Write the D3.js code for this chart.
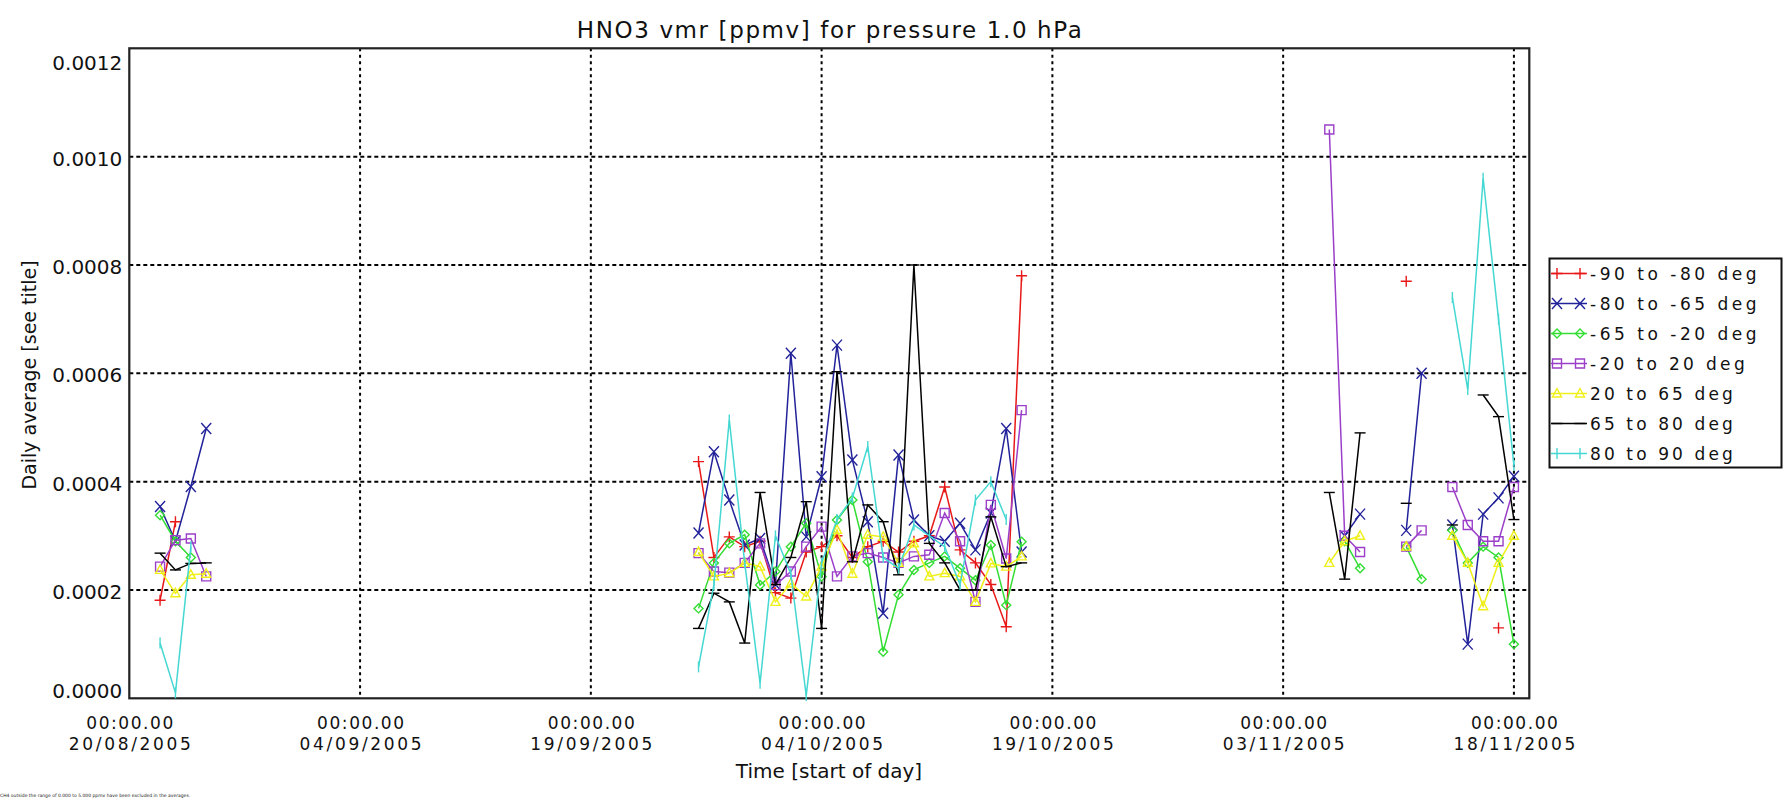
<!DOCTYPE html>
<html><head><meta charset="utf-8">
<script src="https://cdn.jsdelivr.net/npm/d3@7"></script>
<style>body{margin:0;background:#fff} svg{display:block}</style>
</head><body><svg id="c" width="1788" height="798"></svg>
<script>
// ---------- data ----------
const dates = [
  "2005-08-22","2005-08-23","2005-08-24","2005-08-25",
  "2005-09-26","2005-09-27","2005-09-28","2005-09-29","2005-09-30","2005-10-01","2005-10-02","2005-10-03",
  "2005-10-04","2005-10-05","2005-10-06","2005-10-07","2005-10-08","2005-10-09","2005-10-10","2005-10-11",
  "2005-10-12","2005-10-13","2005-10-14","2005-10-15","2005-10-16","2005-10-17",
  "2005-11-06","2005-11-07","2005-11-08","2005-11-11","2005-11-12",
  "2005-11-14","2005-11-15","2005-11-16","2005-11-17","2005-11-18"
];
const seriesNames = ["-90 to -80 deg","-80 to -65 deg","-65 to -20 deg","-20 to 20 deg","20 to 65 deg","65 to 80 deg","80 to 90 deg"];
const s90to80S = [0.000181,0.000326,null,null,
  0.000437,0.00026,0.000298,0.00028,0.00029,0.000195,0.000185,0.00027,0.00028,0.0003,0.00026,0.00028,0.00029,0.00027,0.00029,0.0003,0.00039,0.000274,0.00025,0.00021,0.000132,0.00078,
  null,null,null,0.00077,null, null,null,null,0.00013,null];
const s80to65S = [0.000354,0.00029,0.000391,0.000498,
  0.000305,0.000455,0.000366,0.000283,0.000295,0.00021,0.000637,0.000298,0.000409,0.000652,0.00044,0.000326,0.000157,0.000449,0.000329,0.0003,0.00029,0.000323,0.000274,0.000342,0.000498,0.00027,
  null,0.0003,0.00034,0.00031,0.0006, 0.00032,0.0001,0.00034,0.00037,0.00041];
const s65to20S = [0.000338,0.00029,0.00026,null,
  0.000166,0.00025,0.000286,0.000302,0.000209,0.000234,0.00028,0.000323,0.000225,0.000329,0.000366,0.000252,0.000086,0.000191,0.000237,0.00025,0.000262,0.00024,0.000218,0.000283,0.000172,0.000289,
  null,0.00029,0.00024,0.00028,0.00022, 0.00031,0.00025,0.00028,0.00026,0.0001];
const s20Sto20N = [0.000243,0.000292,0.000295,0.000225,
  0.000268,0.000234,0.000232,0.00025,0.000286,0.000209,0.000234,0.00028,0.000317,0.000225,0.000262,0.000268,0.00026,0.00025,0.000262,0.000265,0.000342,0.00029,0.000178,0.000357,0.000258,0.000532,
  0.00105,0.0003,0.00027,0.00028,0.00031, 0.00039,0.00032,0.00029,0.00029,0.00039];
const s20to65N = [0.000237,0.000194,0.000228,0.00023,
  0.00027,0.000225,0.000231,0.00025,0.000243,0.000178,0.000212,0.000188,0.000243,0.000311,0.00023,0.000302,0.000298,0.00025,0.000286,0.000225,0.000231,0.000225,0.000178,0.000249,0.000243,0.000262,
  0.00025,0.00029,0.0003,0.00028,null, 0.0003,0.00025,0.00017,0.00025,0.0003];
const s65to80N = [0.000268,0.000237,0.000249,0.00025,
  0.000129,0.000194,0.000178,0.000102,0.00038,0.00021,0.00026,0.000363,0.000129,0.000603,0.000252,0.000357,0.000326,0.000228,0.0008,0.000286,0.00025,0.0002,0.0002,0.000335,0.000243,0.00025,
  0.00038,0.00022,0.00049,0.00036,null, 0.00032,null,0.00056,0.00052,0.00033];
const s80to90N = [0.000102,0.00001,0.00028,null,
  0.000058,0.00021,0.000514,0.00025,0.000028,0.0003,0.00023,0.000005,0.00025,0.00033,0.00037,0.000465,0.00026,0.00024,0.00032,0.0003,0.00028,0.00021,0.000366,0.0004,0.00033,null,
  null,null,null,null,null, 0.00074,0.00057,0.00096,0.0007,0.00043];
const seriesValues = [s90to80S,s80to65S,s65to20S,s20Sto20N,s20to65N,s65to80N,s80to90N];
const seriesColors = ["#e81818","#22229a","#33dd33","#9b3fc9","#efef1a","#000000","#45d8d2"];
const seriesMarkers = ["plus","x","diamond","square","triangle","hbar","vbar"];
const xTickDates = ["2005-08-20","2005-09-04","2005-09-19","2005-10-04","2005-10-19","2005-11-03","2005-11-18"];
const yTicks = [0,0.0002,0.0004,0.0006,0.0008,0.0010,0.0012];
const titleText = "HNO3 vmr [ppmv] for pressure 1.0 hPa";
const xTitle = "Time [start of day]";
const yTitle = "Daily average [see title]";
const footnote = "CH4 outside the range of 0.000 to 5.000 ppmv have been excluded in the averages.";

// ---------- drawing ----------
const svg = d3.select("#c");
const L = 129.3, R = 1529.3, T = 48.3, B = 698.3;
const parse = d3.utcParse("%Y-%m-%d");
const x = d3.scaleUtc().domain([parse("2005-08-20"), parse("2005-11-19")]).range([L, R]);
const y = d3.scaleLinear().domain([0, 0.0012]).range([B, T]);
const font = "DejaVu Sans, sans-serif";

svg.append("rect").attr("width",1788).attr("height",798).attr("fill","#fff");

// gridlines
const grid = svg.append("g");
yTicks.filter(v => v > 0 && v < 0.0012).forEach(v => {
  grid.append("line").attr("x1",L).attr("x2",R).attr("y1",y(v)).attr("y2",y(v))
    .attr("stroke","#000").attr("stroke-width",2).attr("stroke-dasharray","4,3");
});
xTickDates.slice(1).forEach(s => {
  const xv = x(parse(s));
  grid.append("line").attr("x1",xv).attr("x2",xv).attr("y1",T).attr("y2",B)
    .attr("stroke","#000").attr("stroke-width",2).attr("stroke-dasharray","3,3.5");
});

// axes (no tick marks; labels via d3 axis)
const yAxis = d3.axisLeft(y).tickValues(yTicks).tickFormat(d3.format(".4f")).tickSize(0).tickPadding(7);
const gy = svg.append("g").attr("transform",`translate(${L},0)`).call(yAxis);
gy.select(".domain").remove();
gy.selectAll("text").attr("font-family",font).attr("font-size",20).attr("fill","#111")
  .attr("dy", d => d === 0.0012 ? "1.05em" : d === 0 ? "-0.05em" : "0.42em");

const xAxis = d3.axisBottom(x).tickValues(xTickDates.map(parse)).tickSize(0).tickFormat(() => "");
const gx = svg.append("g").attr("transform",`translate(0,${B})`).call(xAxis);
gx.select(".domain").remove();
gx.selectAll(".tick").each(function(d){
  const g = d3.select(this);
  g.append("text").attr("font-family",font).attr("font-size",17).attr("fill","#111")
    .attr("text-anchor","middle").attr("x",0).attr("y",31).attr("textLength",87).text("00:00.00");
  g.append("text").attr("font-family",font).attr("font-size",17).attr("fill","#111")
    .attr("text-anchor","middle").attr("x",0).attr("y",51.5).attr("textLength",122)
    .text(d3.utcFormat("%d/%m/%Y")(d));
});

// plot frame
svg.append("rect").attr("x",L).attr("y",T).attr("width",R-L).attr("height",B-T)
  .attr("fill","none").attr("stroke","#222").attr("stroke-width",2.2);

// markers
const markerPath = {
  plus: "M-5.5,0H5.5M0,-5.5V5.5",
  x: "M-5,-5.5L5,5.5M-5,5.5L5,-5.5",
  diamond: "M0,-4.5L4.5,0L0,4.5L-4.5,0Z",
  square: "M-4.5,-4.5H4.5V4.5H-4.5Z",
  triangle: "M0,-5L4.5,3.5L-4.5,3.5Z",
  hbar: "M-5.5,0H5.5",
  vbar: "M0,-5.5V5.5"
};

const dayMs = 86400000;
const plot = svg.append("g");
seriesValues.forEach((vals, si) => {
  const pts = dates.map((s, i) => ({d: parse(s), v: vals[i]}));
  const runs = [];
  let cur = [];
  pts.forEach(p => {
    if (p.v === null) { if (cur.length) runs.push(cur); cur = []; return; }
    if (cur.length && (p.d - cur[cur.length-1].d) > dayMs * 1.5) { runs.push(cur); cur = []; }
    cur.push(p);
  });
  if (cur.length) runs.push(cur);
  const line = d3.line().x(p => x(p.d)).y(p => y(p.v));
  const g = plot.append("g");
  runs.filter(r => r.length > 1).forEach(r => {
    g.append("path").attr("d", line(r)).attr("fill","none")
      .attr("stroke", seriesColors[si]).attr("stroke-width",1.5);
  });
  pts.filter(p => p.v !== null).forEach(p => {
    g.append("path").attr("d", markerPath[seriesMarkers[si]])
      .attr("transform", `translate(${x(p.d)},${y(p.v)})`)
      .attr("fill","none").attr("stroke", seriesColors[si]).attr("stroke-width",1.4);
  });
});

// titles
svg.append("text").attr("x",(L+R)/2).attr("y",38).attr("text-anchor","middle")
  .attr("font-family",font).attr("font-size",23).attr("fill","#111")
  .attr("textLength",505).text(titleText);
svg.append("text").attr("x",829).attr("y",778).attr("text-anchor","middle")
  .attr("font-family",font).attr("font-size",20).attr("fill","#111").text(xTitle);
svg.append("text").attr("transform","translate(36,375) rotate(-90)").attr("text-anchor","middle")
  .attr("font-family",font).attr("font-size",19).attr("fill","#111").text(yTitle);
svg.append("text").attr("x",0).attr("y",797).attr("font-family",font).attr("font-size",4.5)
  .attr("fill","#222").text(footnote);

// legend
const lg = svg.append("g");
lg.append("rect").attr("x",1549.5).attr("y",258.5).attr("width",232).attr("height",209)
  .attr("fill","#fff").attr("stroke","#111").attr("stroke-width",2);
seriesNames.forEach((name, i) => {
  const cy = 273.5 + i*30;
  lg.append("line").attr("x1",1551).attr("x2",1587).attr("y1",cy).attr("y2",cy)
    .attr("stroke",seriesColors[i]).attr("stroke-width",1.5);
  [1557,1580].forEach(mx => lg.append("path").attr("d",markerPath[seriesMarkers[i]])
    .attr("transform",`translate(${mx},${cy})`).attr("fill","none")
    .attr("stroke",seriesColors[i]).attr("stroke-width",1.4));
  lg.append("text").attr("x",1590).attr("y",cy+6).attr("font-family",font).attr("font-size",17)
    .attr("fill","#111").attr("textLength", name.length*11.9).text(name);
});
</script></body></html>
